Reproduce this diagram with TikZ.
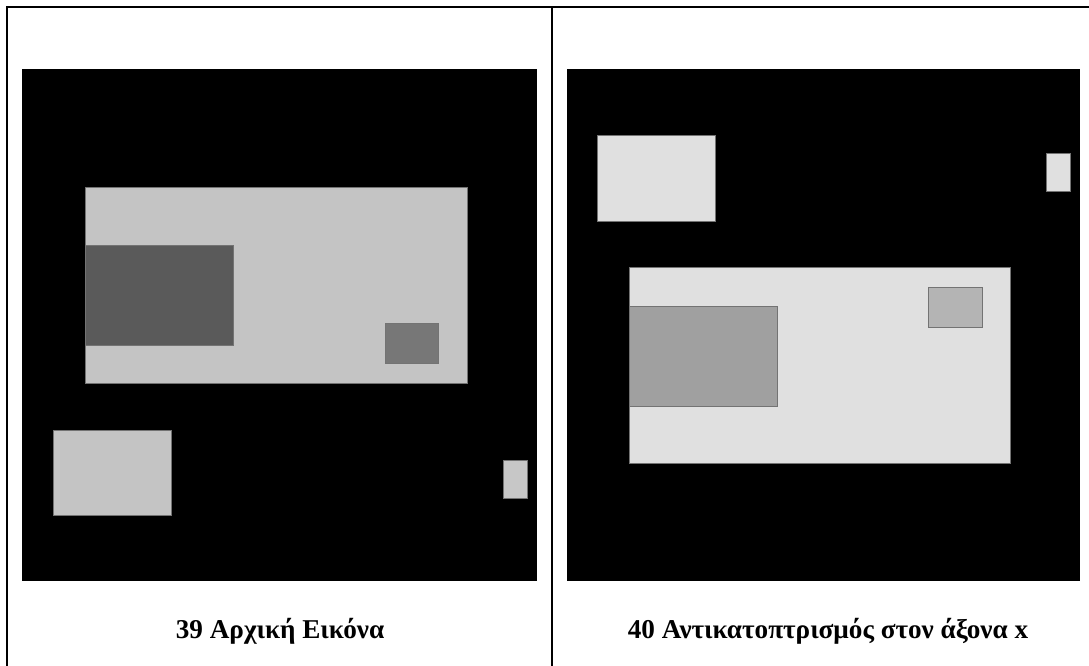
\documentclass[tikz,border=0pt]{standalone}
\usepackage{fontspec}
\setmainfont{Liberation Serif}
\definecolor{cLight}{HTML}{C4C4C4}
\definecolor{cDark}{HTML}{5A5A5A}
\definecolor{cMid}{HTML}{777777}
\definecolor{cLightR}{HTML}{E0E0E0}
\definecolor{cDarkR}{HTML}{A0A0A0}
\definecolor{cMidR}{HTML}{B4B4B4}

\begin{document}
\begin{tikzpicture}[
  x=0.75pt,y=-0.75pt,
  frame/.style={draw=black,line width=1.5pt},
  img/.style={fill=black},
  blob/.style={draw=black!55,line width=0.3pt},
  caption/.style={font=\fontsize{20.4}{24}\selectfont\bfseries,inner sep=0pt},
  ]
  \useasboundingbox (0,0) rectangle (1089,666);
  \clip (0,0) rectangle (1089,666);

  % table lines
  \draw[frame] (7,680) -- (7,7) -- (1100,7);
  \draw[frame] (552,7) -- (552,680);

  % left picture: original
  \fill[img] (22,69) rectangle (537,581);
  \filldraw[blob,fill=cLight] (85,187) rectangle (467,383);
  \filldraw[blob,fill=cDark] (85,245) rectangle (233,345);
  \filldraw[blob,fill=cMid] (385,323) rectangle (438,363);
  \filldraw[blob,fill=cLight] (53,430) rectangle (171,515);
  \filldraw[blob,fill=cLight!95!white] (503,460) rectangle (527,498);

  % right picture: mirrored about the x axis
  \fill[img] (567,69) rectangle (1080,581);
  \filldraw[blob,fill=cLightR] (597,135) rectangle (715,221);
  \filldraw[blob,fill=cLightR] (629,267) rectangle (1010,463);
  \filldraw[blob,fill=cDarkR] (629,306) rectangle (777,406);
  \filldraw[blob,fill=cMidR] (928,287) rectangle (982,327);
  \filldraw[blob,fill=cLightR] (1046,153) rectangle (1070,191);

  \node[caption] (capL) at (280,631) {39 Αρχική Εικόνα};
  \node[caption] (capR) at (828,631) {40 Αντικατοπτρισμός στον άξονα x};
\end{tikzpicture}
\end{document}
